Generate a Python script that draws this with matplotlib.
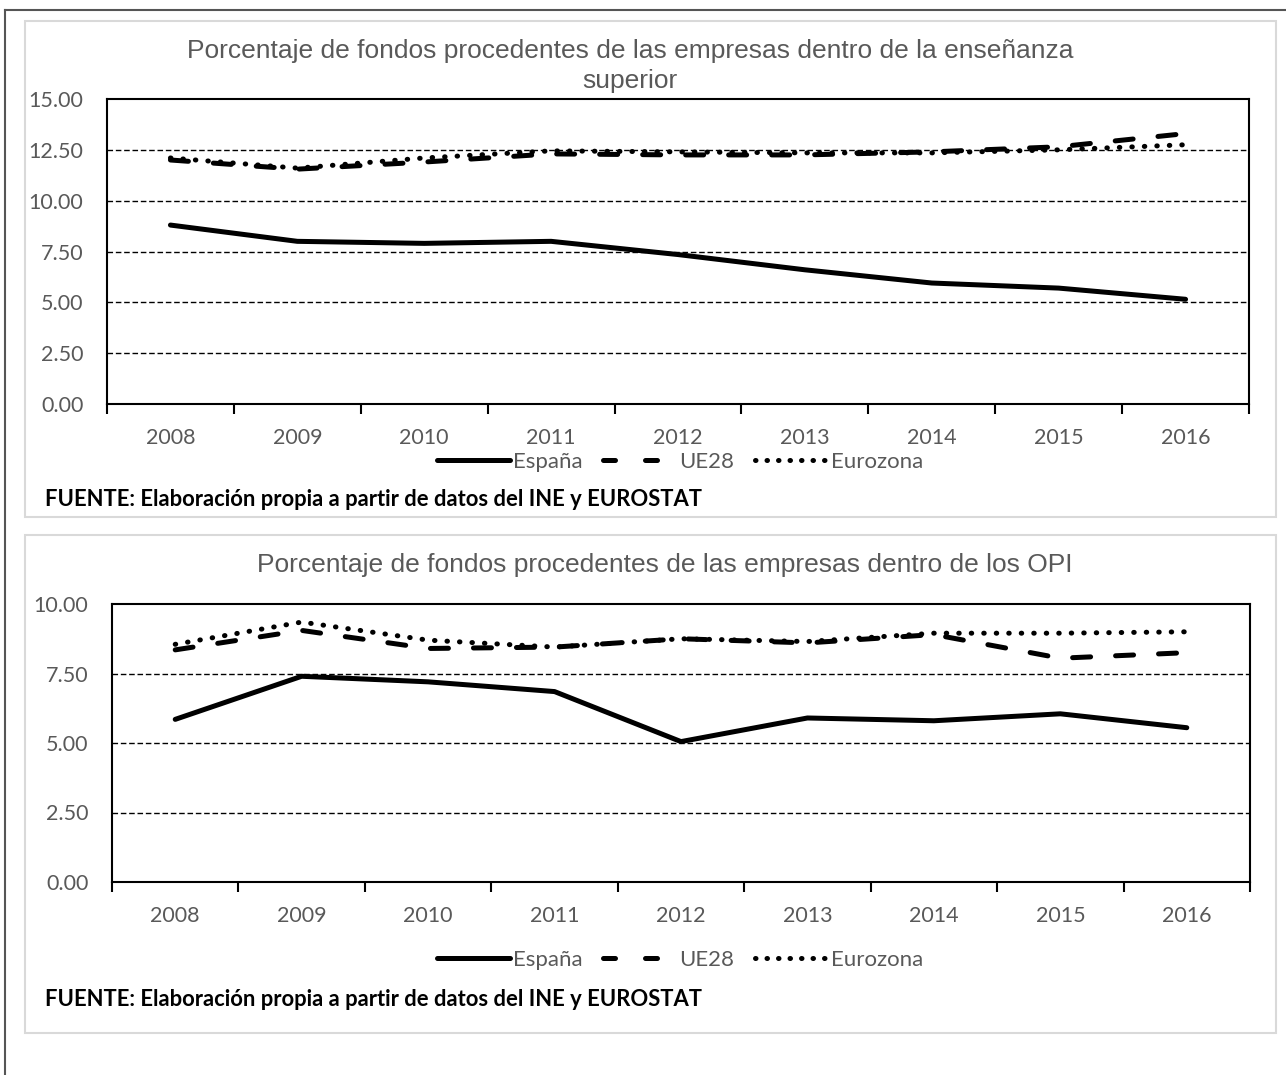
import numpy as np
import matplotlib.pyplot as plt
from matplotlib.patches import Rectangle
from matplotlib.lines import Line2D

anios = ["2008", "2009", "2010", "2011", "2012", "2013", "2014", "2015", "2016"]

# fondos de empresas en la enseñanza superior (%)
sup_espana = [8.80, 8.00, 7.90, 8.00, 7.35, 6.60, 5.95, 5.70, 5.15]
sup_ue28 = [12.00, 11.55, 11.90, 12.30, 12.25, 12.25, 12.40, 12.65, 13.30]
sup_eurozona = [12.10, 11.60, 12.10, 12.45, 12.40, 12.35, 12.35, 12.50, 12.75]

# fondos de empresas en los OPI (%)
opi_espana = [5.85, 7.40, 7.20, 6.85, 5.05, 5.90, 5.80, 6.05, 5.55]
opi_ue28 = [8.35, 9.05, 8.40, 8.45, 8.75, 8.60, 8.90, 8.05, 8.25]
opi_eurozona = [8.55, 9.35, 8.70, 8.45, 8.75, 8.65, 8.95, 8.95, 9.00]

series = ["España", "UE28", "Eurozona"]

W, H = 1286, 1075
fig = plt.figure(figsize=(W / 100, H / 100), dpi=100)

GRIS = "#595959"
FUENTE_TXT = "Lato"
FUENTE_TIT = "Liberation Sans"

estilos = [
    dict(linestyle="-", solid_capstyle="round"),
    dict(linestyle=(0, (3.6, 5.0)), dash_capstyle="round"),
    dict(linestyle=(0, (0.1, 2.4)), dash_capstyle="round"),
]
# en la leyenda la serie discontinua solo muestra dos trazos
estilos_ley = [
    estilos[0],
    dict(linestyle=(0, (2.4, 6.0)), dash_capstyle="round"),
    dict(linestyle=(0, (0.1, 2.2)), dash_capstyle="round"),
]
LW = 3.6


def caja(x0, y0, x1, y1, **kw):
    r = Rectangle((x0 / W, 1 - y1 / H), (x1 - x0) / W, (y1 - y0) / H,
                  transform=fig.transFigure, fill=False, **kw)
    fig.add_artist(r)


def ejes(x0, y0, x1, y1):
    return fig.add_axes([x0 / W, 1 - y1 / H, (x1 - x0) / W, (y1 - y0) / H])


def grafico(ax, datos, ymax, paso, titulo, ytit, yleg, yfuente):
    x = np.arange(len(anios))
    for vals, st in zip(datos, estilos):
        ax.plot(x, vals, color="black", lw=LW, **st)
    ax.set_xlim(-0.5, len(anios) - 0.5)
    ax.set_ylim(0, ymax)
    yt = np.arange(0, ymax + 0.01, paso)
    ax.set_yticks(yt)
    ax.set_yticklabels([f"{v:.2f}" for v in yt], fontsize=15.5,
                       family=FUENTE_TXT, color=GRIS)
    ax.tick_params(axis="y", length=0, pad=17)
    ax.set_xticks(np.arange(-0.5, len(anios)), labels=[])
    ax.set_xticks(x, minor=True)
    ax.set_xticklabels(anios, minor=True, fontsize=15.5, family=FUENTE_TXT,
                       color=GRIS)
    ax.tick_params(axis="x", which="major", length=7, width=1.5,
                   direction="out", color="black")
    ax.tick_params(axis="x", which="minor", length=0, pad=17)
    for yv in yt[1:-1]:
        ax.axhline(yv, color="black", lw=1, ls=(0, (4, 2)), zorder=0)
    for lado in ax.spines.values():
        lado.set_color("black")
        lado.set_linewidth(1.5)
    fig.text(ytit[0] / W, 1 - ytit[1] / H, titulo,
             ha="center", va="center", fontsize=19, family=FUENTE_TIT,
             color=GRIS, linespacing=1.3)
    manejadores = [Line2D([], [], color="black", lw=LW, **st) for st in estilos_ley]
    fig.legend(manejadores, series, loc="center",
               bbox_to_anchor=(yleg[0] / W, 1 - yleg[1] / H), ncol=3,
               frameon=False, handlelength=3.3, handletextpad=0.15,
               columnspacing=0.9,
               prop=dict(family=FUENTE_TXT, size=16))
    for t in fig.legends[-1].get_texts():
        t.set_color(GRIS)
    fig.text(45 / W, 1 - yfuente / H,
             "FUENTE: Elaboración propia a partir de datos del INE y EUROSTAT",
             ha="left", va="center", fontsize=15.8, family=FUENTE_TXT,
             weight="bold", color="black")


# marco exterior (solo izquierda y arriba)
fig.add_artist(Line2D([5 / W, 5 / W], [0, 1 - 10 / H], transform=fig.transFigure,
                      color="#555555", lw=1.5))
fig.add_artist(Line2D([5 / W, 1], [1 - 10 / H, 1 - 10 / H],
                      transform=fig.transFigure, color="#555555", lw=1.5))

caja(25, 21, 1276, 517, edgecolor="#d9d9d9", lw=1.5)
caja(25, 535, 1276, 1033, edgecolor="#d9d9d9", lw=1.5)

ax1 = ejes(107, 99, 1249, 404)
grafico(ax1, [sup_espana, sup_ue28, sup_eurozona], 15, 2.5,
        "Porcentaje de fondos procedentes de las empresas dentro de la enseñanza\nsuperior",
        (630, 66), (680, 462), (500))

ax2 = ejes(112, 604, 1250, 882)
grafico(ax2, [opi_espana, opi_ue28, opi_eurozona], 10, 2.5,
        "Porcentaje de fondos procedentes de las empresas dentro de los OPI",
        (665, 565), (680, 960), (1000))

fig.savefig("out.png", dpi=100)
